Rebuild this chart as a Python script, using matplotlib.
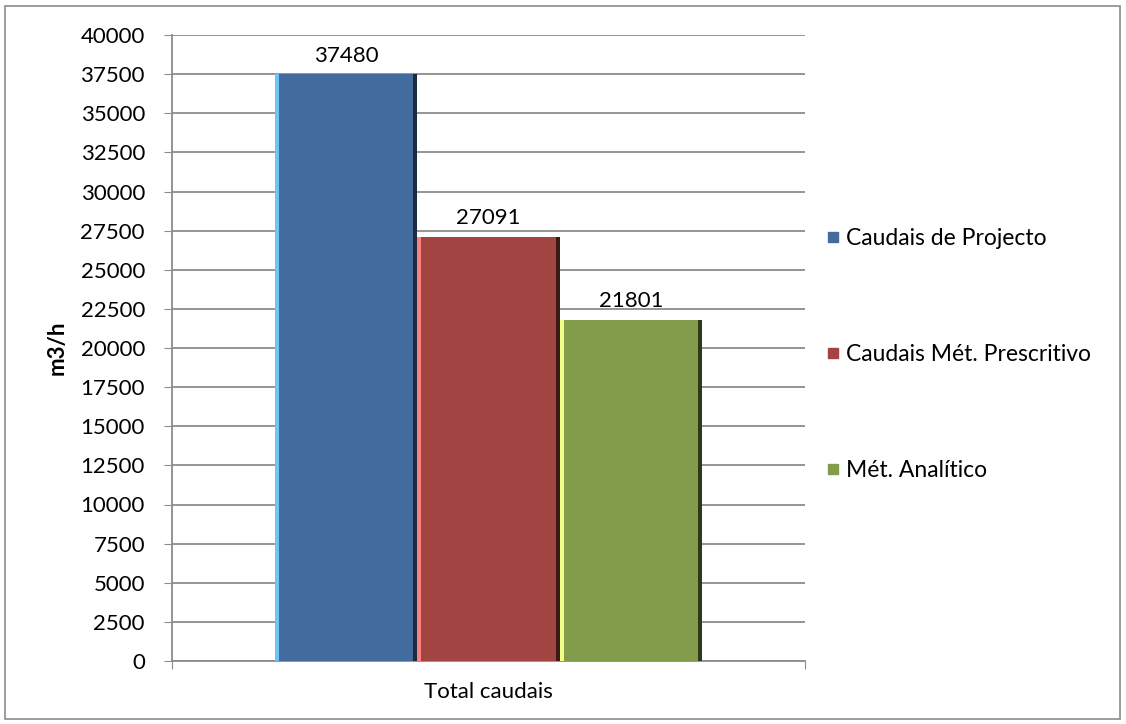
import matplotlib.pyplot as plt
from matplotlib.patches import Rectangle
from matplotlib.lines import Line2D

# Flow totals (m3/h) for each calculation method
series = ["Caudais de Projecto", "Caudais Mét. Prescritivo", "Mét. Analítico"]
values = [37480, 27091, 21801]
category = "Total caudais"
yticks = list(range(0, 40001, 2500))

face = ["#436B9D", "#A14442", "#839C4C"]
light = ["#6FC3F7", "#FF8080", "#F2FF86"]
dark = ["#1D2B40", "#3B1919", "#2C391B"]

plt.rcParams['font.family'] = ['Lato', 'DejaVu Sans']
fs = 16

fig = plt.figure(figsize=(11.26, 7.24), dpi=100)
ax = fig.add_axes([172 / 1126, 1 - 661 / 724, (805 - 172) / 1126, (661 - 35) / 724])

# outer chart frame
fig.patches.append(Rectangle((5 / 1126, 5 / 724), 1115 / 1126, 713 / 724,
                             transform=fig.transFigure, fill=False,
                             edgecolor="#8C8C8C", linewidth=1.2))

n = len(values)
bar_w = 0.225
x0 = 0.5 - bar_w * n / 2
bevel = 0.006
for i, v in enumerate(values):
    left = x0 + i * bar_w
    ax.bar(left, v, width=bar_w, align='edge', color=face[i], zorder=3)
    ax.bar(left, v, width=bevel, align='edge', color=light[i], zorder=4)
    ax.bar(left + bar_w - bevel * 1.1, v, width=bevel * 1.1, align='edge',
           color=dark[i], zorder=4)
    ax.text(left + bar_w / 2, v + 1200, f"{v}", ha='center', va='center',
            fontsize=fs, color='black')

ax.set_xlim(0, 1)
ax.set_ylim(0, 40000)
ax.set_yticks(yticks)
ax.set_yticklabels([str(t) for t in yticks], fontsize=fs)
ax.set_xticks([0, 1])
ax.set_xticklabels([])
ax.tick_params(axis='y', length=6, color='#8C8C8C', pad=13.5)
ax.tick_params(axis='x', length=6, color='#8C8C8C', direction='out')
ax.text(0.5, -0.0495, category, transform=ax.transAxes, ha='center', va='center',
        fontsize=fs)
ax.yaxis.grid(True, color='#8C8C8C', linewidth=1.3, zorder=0)
ax.set_axisbelow(True)
for side in ['top', 'right']:
    ax.spines[side].set_visible(False)
for side in ['left', 'bottom']:
    ax.spines[side].set_color('#8C8C8C')
    ax.spines[side].set_linewidth(1.3)
ax.set_ylabel("m3/h", fontsize=fs, fontweight='bold', labelpad=9)

handles = [Line2D([], [], marker='s', linestyle='none', markersize=7.5,
                  markerfacecolor=face[i], markeredgecolor=face[i])
           for i in range(n)]
fig.legend(handles, series, loc='upper left', bbox_to_anchor=(815 / 1126, 1 - 219 / 724),
           frameon=False, fontsize=16.5, labelspacing=4.15, handletextpad=0.15,
           handlelength=0.8, borderaxespad=0)

fig.savefig("out.png", dpi=100)
